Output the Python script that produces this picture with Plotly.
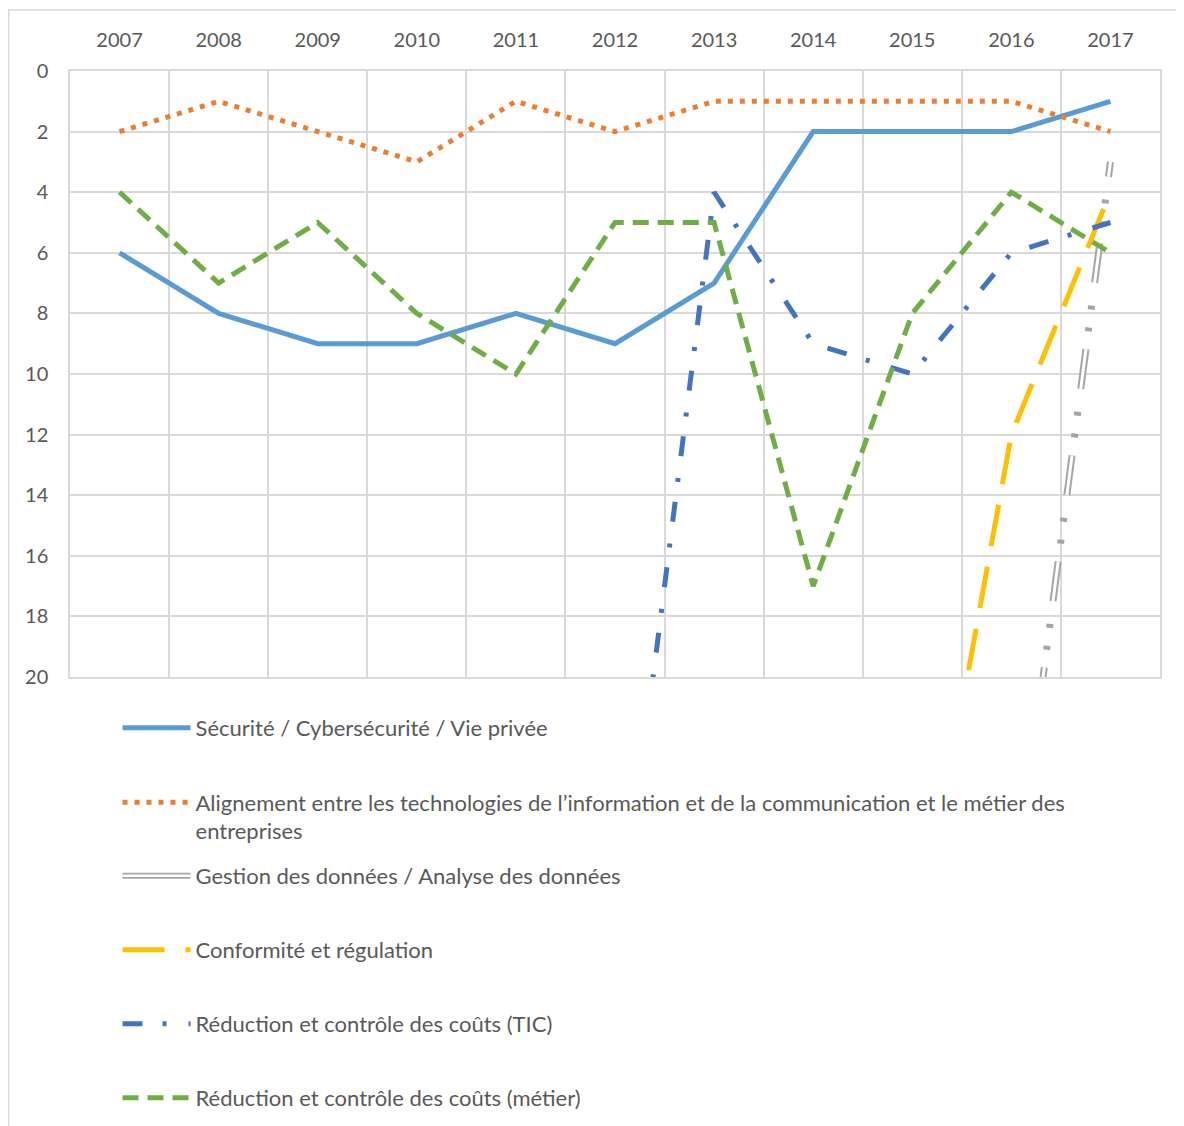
import plotly.graph_objects as go

years = ["2007", "2008", "2009", "2010", "2011", "2012", "2013", "2014", "2015", "2016", "2017"]

securite = [6, 8, 9, 9, 8, 9, 7, 2, 2, 2, 1]
alignement = [2, 1, 2, 3, 1, 2, 1, 1, 1, 1, 2]
gestion = [None, None, None, None, None, None, None, None, None, 28, 3]
conformite = [None, None, None, None, None, None, None, None, 30, 12, 4]
reduction_tic = [None, None, None, None, None, 30, 4, 9, 10, 6, 5]
reduction_metier = [4, 7, 5, 8, 10, 5, 5, 17, 8, 4, 6]

names = [
    "Sécurité / Cybersécurité / Vie privée",
    "Alignement entre les technologies de l’information et de la communication et le métier des<br>entreprises",
    "Gestion des données / Analyse des données",
    "Conformité et régulation",
    "Réduction et contrôle des coûts (TIC)",
    "Réduction et contrôle des coûts (métier)",
]

FONT = "Lato"
TXT = "#595959"
GRID = "#D9D9D9"

fig = go.Figure()

fig.add_trace(go.Scatter(x=years, y=securite, mode="lines", name=names[0],
                         line=dict(color="#5B9BD5", width=5), legend="legend"))
fig.add_trace(go.Scatter(x=years, y=alignement, mode="lines", name=names[1],
                         line=dict(color="#ED7D31", width=5, dash="5px,7px"), legend="legend2"))
# double gray line: gray outer + white inner
fig.add_trace(go.Scatter(x=years, y=gestion, mode="lines", name=names[2], showlegend=False,
                         line=dict(color="#A5A5A5", width=7, dash="40px,18px,4px,18px,4px,23px")))
fig.add_trace(go.Scatter(x=years, y=gestion, mode="lines", name=names[2], showlegend=False,
                         line=dict(color="white", width=3, dash="40px,67px")))
# legend samples for the double line
fig.add_trace(go.Scatter(x=[None], y=[None], mode="lines", name=names[2],
                         line=dict(color="#A5A5A5", width=6), legend="legend3"))
fig.add_trace(go.Scatter(x=[None], y=[None], mode="lines", name=names[2],
                         line=dict(color="white", width=2.5), legend="legend7"))
fig.add_trace(go.Scatter(x=years, y=conformite, mode="lines", name=names[3],
                         line=dict(color="#FFC000", width=5, dash="42px,21px"), legend="legend4"))
fig.add_trace(go.Scatter(x=years, y=reduction_tic, mode="lines", name=names[4],
                         line=dict(color="#4472C4", width=5, dash="20px,20px,4px,22px"), legend="legend5"))
fig.add_trace(go.Scatter(x=years, y=reduction_metier, mode="lines", name=names[5],
                         line=dict(color="#70AD47", width=5, dash="16px,9px"), legend="legend6"))

def leg(y, valign="middle", color=TXT):
    return dict(x=0.0436, y=y, xanchor="left", yanchor="middle", orientation="v",
                font=dict(family=FONT, size=22, color=color), bgcolor="rgba(0,0,0,0)",
                itemwidth=68, valign=valign, borderwidth=0)

fig.update_layout(
    width=1184, height=1126,
    margin=dict(l=62, r=32, t=63, b=457),
    plot_bgcolor="white", paper_bgcolor="white",
    font=dict(family=FONT, size=20, color=TXT),
    xaxis=dict(type="category", side="top", tickson="boundaries", showgrid=True,
               gridcolor=GRID, gridwidth=1.5, showline=True, mirror=True, linecolor=GRID,
               linewidth=1.5, ticks="", ticklabelstandoff=14, zeroline=False,
               range=[-0.5, 10.5]),
    yaxis=dict(range=[20, 0], dtick=2, tick0=0, showgrid=True, gridcolor=GRID, gridwidth=1.5,
               showline=True, mirror=True, linecolor=GRID, linewidth=1.5, ticks="",
               ticklabelstandoff=16, zeroline=False),
    legend=leg(-0.0842),
    legend2=leg(-0.231, "top"),
    legend3=leg(-0.3284),
    legend7=leg(-0.3284, color="rgba(0,0,0,0)"),
    legend4=leg(-0.4505),
    legend5=leg(-0.5726),
    legend6=leg(-0.6947),
    shapes=[dict(type="rect", xref="paper", yref="paper",
                 x0=-0.0562, x1=(1200 - 62) / 1090,
                 y0=(669 - 1140) / 606, y1=(669 - 2) / 606,
                 line=dict(color=GRID, width=1.5), fillcolor="rgba(0,0,0,0)", layer="below")],
)

fig.write_html("out.html")
